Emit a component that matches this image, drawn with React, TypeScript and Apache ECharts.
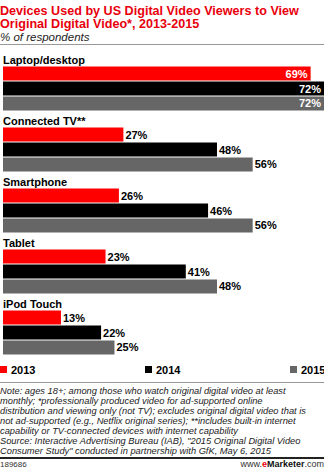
import React, { useEffect, useRef } from "react";
import * as echarts from "echarts";

const categories = ["Laptop/desktop", "Connected TV**", "Smartphone", "Tablet", "iPod Touch"];
const seriesNames = ["2013", "2014", "2015"];
const values2013 = [69, 27, 26, 23, 13];
const values2014 = [72, 48, 46, 41, 22];
const values2015 = [72, 56, 56, 48, 25];
const colors = ["#ff0000", "#000000", "#666666"];

const titleLines = [
  "Devices Used by US Digital Video Viewers to View",
  "Original Digital Video*, 2013-2015",
];
const subtitle = "% of respondents";
const noteLines = [
  "Note: ages 18+; among those who watch original digital video at least",
  "monthly; *professionally produced video for ad-supported online",
  "distribution and viewing only (not TV); excludes original digital video that is",
  "not ad-supported (e.g., Netflix original series); **includes built-in internet",
  "capability or TV-connected devices with internet capability",
  "Source: Interactive Advertising Bureau (IAB), \"2015 Original Digital Video",
  "Consumer Study\" conducted in partnership with GfK, May 6, 2015",
];
const chartId = "189686";

const FONT = "'Liberation Sans', Arial, sans-serif";

export default function App() {
  const ref = useRef<HTMLDivElement>(null);
  useEffect(() => {
    if (!ref.current) return;
    const chart = echarts.init(ref.current, null, { renderer: "svg" });
    const all = [values2013, values2014, values2015];
    const series = all.map((vals, si) => ({
      name: seriesNames[si],
      type: "bar",
      barWidth: 14,
      barGap: "7%",
      itemStyle: { color: colors[si] },
      label: {
        show: true,
        position: "right",
        distance: 2,
        formatter: "{c}%",
        color: "#000",
        fontFamily: FONT,
        fontWeight: "bold",
        fontSize: 11,
      },
      data: vals.map((v, i) =>
        i === 0
          ? { value: v, label: { position: "insideRight", distance: 3, color: "#fff" } }
          : v
      ),
    }));

    const graphics: any[] = [];
    titleLines.forEach((t, i) => {
      graphics.push({
        type: "text",
        left: 0,
        top: 4 + i * 13,
        style: { text: t, fill: "#e8000d", font: `bold 12.6px ${FONT}` },
      });
    });
    graphics.push({
      type: "text",
      left: 0,
      top: 31,
      style: { text: subtitle, fill: "#222", font: `italic 11.5px ${FONT}` },
    });
    graphics.push({ type: "line", shape: { x1: 0, y1: 44.5, x2: 324, y2: 44.5 }, style: { stroke: "#999", lineWidth: 1 } });
    graphics.push({ type: "line", shape: { x1: 0, y1: 382.5, x2: 324, y2: 382.5 }, style: { stroke: "#999", lineWidth: 1 } });
    noteLines.forEach((t, i) => {
      graphics.push({
        type: "text",
        left: 0,
        top: 386 + i * 10,
        style: { text: t, fill: "#222", font: `italic 9.3px ${FONT}` },
      });
    });
    graphics.push({ type: "rect", shape: { x: 0, y: 457, width: 324, height: 2 }, style: { fill: "#222" } });
    graphics.push({
      type: "text",
      left: 0,
      top: 460,
      style: { text: chartId, fill: "#333", font: `8px ${FONT}` },
    });
    graphics.push({
      type: "text",
      right: 0,
      top: 459,
      style: {
        text: "{a|www.}{b|e}{c|Marketer}{a|.com}",
        rich: {
          a: { fill: "#333", font: `9px ${FONT}` },
          b: { fill: "#e8000d", font: `bold 9px ${FONT}` },
          c: { fill: "#111", font: `bold 9px ${FONT}` },
        },
      },
    });

    const legendLefts = [0, 145, 290];
    const legends = seriesNames.map((n, i) => ({
      data: [n],
      left: legendLefts[i],
      top: 364,
      itemWidth: 7,
      itemHeight: 7,
      itemGap: 0,
      padding: 0,
      selectedMode: false,
      icon: "rect",
      textStyle: { fontFamily: FONT, fontWeight: "bold", fontSize: 11, color: "#000", padding: [0, 0, 0, -1] },
    }));

    chart.setOption({
      animation: false,
      textStyle: { fontFamily: FONT },
      legend: legends,
      grid: { left: 0, right: 0, top: 58, height: 305, containLabel: false },
      xAxis: { type: "value", min: 0, max: 72, show: false },
      yAxis: {
        type: "category",
        data: categories,
        inverse: true,
        axisLine: { show: false },
        axisTick: { show: false },
        splitLine: { show: false },
        axisLabel: {
          show: true,
          interval: 0,
          hideOverlap: false,
          inside: true,
          margin: 0,
          align: "left",
          verticalAlign: "middle",
          formatter: (v: string) => `{t|${v}}\n{s|}`,
          rich: {
            t: {
              color: "#000",
              fontFamily: FONT,
              fontWeight: "bold",
              fontSize: 11,
              lineHeight: 13,
              align: "left",
            },
            s: { lineHeight: 58, height: 58 },
          },
        },
        z: 10,
      },
      series,
      graphic: graphics,
    });
    return () => chart.dispose();
  }, []);
  return (
    <div
      ref={ref}
      style={{ position: "absolute", left: 0, top: 0, width: 324, height: 470, background: "#fff" }}
    />
  );
}
